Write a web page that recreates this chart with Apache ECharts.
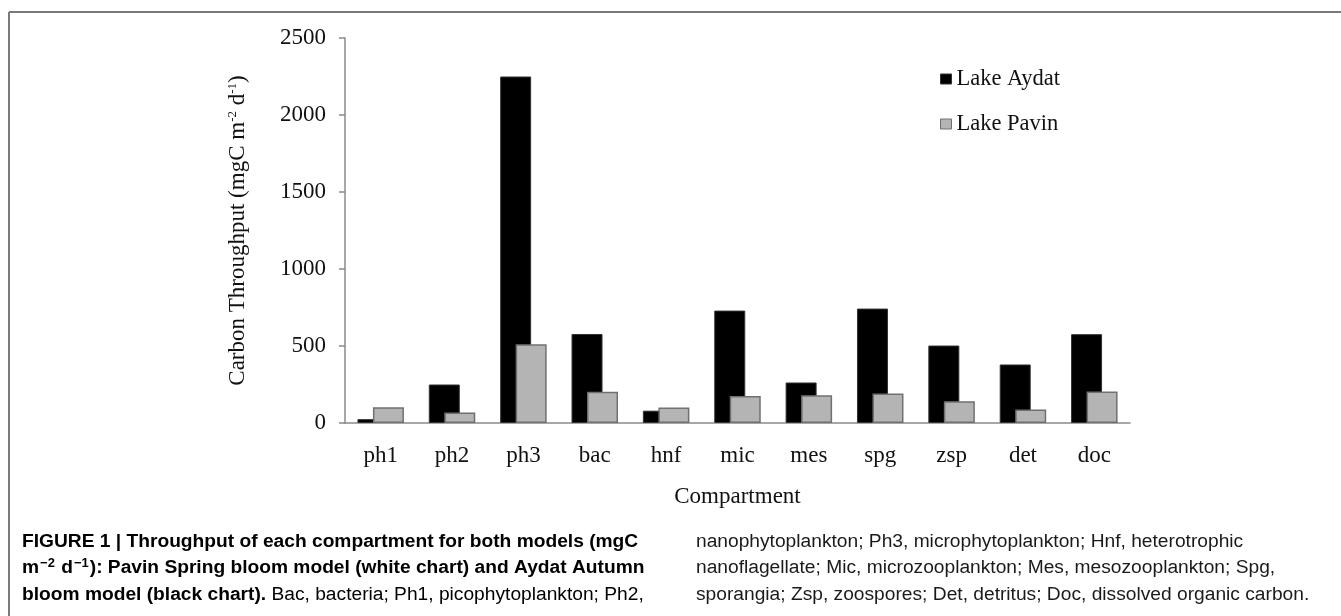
<!DOCTYPE html>
<html>
<head>
<meta charset="utf-8">
<script src="https://cdn.jsdelivr.net/npm/echarts@6/dist/echarts.min.js"></script>
<style>
  html, body { margin: 0; padding: 0; background: #fff; }
  #chart { width: 1341px; height: 616px; }
</style>
</head>
<body>
<div id="chart"></div>
<script>
// compartments on the x axis
const compartments = ['ph1', 'ph2', 'ph3', 'bac', 'hnf', 'mic', 'mes', 'spg', 'zsp', 'det', 'doc'];
// carbon throughput, mgC m-2 d-1
const lakeAydat = [25, 250, 2250, 578, 80, 730, 263, 743, 503, 380, 577];
const lakePavin = [102, 68, 512, 203, 101, 175, 181, 192, 142, 88, 205];
const yTicks = [0, 500, 1000, 1500, 2000, 2500];

const serif = '"Liberation Serif", "Times New Roman", serif';
const sans = '"Liberation Sans", Arial, Helvetica, sans-serif';

const chart = echarts.init(document.getElementById('chart'));

chart.setOption({
  backgroundColor: '#fff',
  animation: false,
  grid: {
    left: 345,
    right: 211,
    top: 38,
    bottom: 193
  },
  legend: {
    left: 935,
    top: 59,
    orient: 'vertical',
    itemWidth: 11,
    itemHeight: 10,
    itemGap: 15,
    textStyle: { fontFamily: serif, fontSize: 22.5, lineHeight: 24, color: '#111', padding: [6, 0, 0, 0] },
    data: [
      { name: 'Lake Aydat', icon: 'rect', itemStyle: { color: '#000', borderColor: '#333', borderWidth: 1 } },
      { name: 'Lake Pavin', icon: 'rect', itemStyle: { color: '#b4b4b4', borderColor: '#707070', borderWidth: 1 } }
    ]
  },
  xAxis: {
    type: 'category',
    data: compartments,
    name: 'Compartment',
    nameLocation: 'middle',
    nameGap: 62,
    nameTextStyle: { fontFamily: serif, fontSize: 23, color: '#111' },
    axisLine: { lineStyle: { color: '#8a8a8a', width: 1.5 } },
    axisTick: { length: 6, lineStyle: { color: '#8a8a8a', width: 1.5 } },
    axisLabel: { fontFamily: serif, fontSize: 23, color: '#111', margin: 21 }
  },
  yAxis: {
    type: 'value',
    min: yTicks[0],
    max: yTicks[yTicks.length - 1],
    interval: 500,
    name: '{t|Carbon Throughput (mgC m}{s|-2}{t| d}{s|-1}{t|)}',
    nameLocation: 'middle',
    nameRotate: 90,
    nameGap: 96,
    nameTextStyle: {
      rich: {
        t: { fontFamily: serif, fontSize: 23, color: '#111' },
        s: { fontFamily: serif, fontSize: 13, color: '#111', verticalAlign: 'top' }
      }
    },
    splitLine: { show: false },
    axisLine: { show: true, lineStyle: { color: '#8a8a8a', width: 1.5 } },
    axisTick: { show: true, length: 6, lineStyle: { color: '#8a8a8a', width: 1.5 } },
    axisLabel: {
      fontFamily: serif,
      fontSize: 23,
      color: '#111',
      margin: 19,
      formatter: v => String(v)
    }
  },
  series: [
    {
      name: 'Lake Aydat',
      type: 'bar',
      data: lakeAydat,
      barWidth: 31,
      barGap: '-50%',
      itemStyle: { color: '#000', borderColor: '#333', borderWidth: 1 }
    },
    {
      name: 'Lake Pavin',
      type: 'bar',
      data: lakePavin,
      barWidth: 31,
      itemStyle: { color: '#b4b4b4', borderColor: '#707070', borderWidth: 1.5 }
    }
  ],
  graphic: [
    // frame around the figure (top and left edges)
    { type: 'line', shape: { x1: 9, y1: 12, x2: 1341, y2: 12 }, style: { stroke: '#7a7a7a', lineWidth: 2 } },
    { type: 'line', shape: { x1: 9, y1: 12, x2: 9, y2: 616 }, style: { stroke: '#7a7a7a', lineWidth: 2 } },
    {
      type: 'text',
      left: 22,
      top: 528,
      style: {
        text: '{b|FIGURE 1 | Throughput of each compartment for both models (mgC}\n' +
              '{b|m}{bs|−2}{b| d}{bs|−1}{b|): Pavin Spring bloom model (white chart) and Aydat Autumn}\n' +
              '{b|bloom model (black chart).}{n| Bac, bacteria; Ph1, picophytoplankton; Ph2,}',
        lineHeight: 26.5,
        rich: {
          b: { fontFamily: sans, fontSize: 19.2, fontWeight: 'bold', color: '#1a1a1a', lineHeight: 26.5 },
          bs: {
            fontFamily: sans, fontSize: 13, fontWeight: 'bold', color: '#1a1a1a',
            lineHeight: 14, verticalAlign: 'middle', padding: [0, 1, 9, 1]
          },
          n: { fontFamily: sans, fontSize: 19.2, color: '#1a1a1a', lineHeight: 26.5 }
        }
      }
    },
    {
      type: 'text',
      left: 696,
      top: 528,
      style: {
        text: 'nanophytoplankton; Ph3, microphytoplankton; Hnf, heterotrophic\n' +
              'nanoflagellate; Mic, microzooplankton; Mes, mesozooplankton; Spg,\n' +
              'sporangia; Zsp, zoospores; Det, detritus; Doc, dissolved organic carbon.',
        fontFamily: sans,
        fontSize: 19.2,
        lineHeight: 26.5,
        fill: '#1a1a1a'
      }
    }
  ]
});
</script>
</body>
</html>
